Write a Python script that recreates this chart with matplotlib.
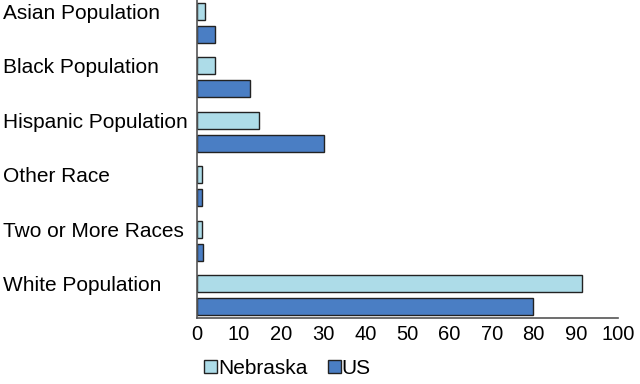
import matplotlib.pyplot as plt
import numpy as np

categories = ["Asian Population", "Black Population", "Hispanic Population",
              "Other Race", "Two or More Races", "White Population"]
nebraska = [1.8, 4.3, 14.8, 1.2, 1.2, 91.4]
us = [4.3, 12.6, 30.2, 1.1, 1.5, 79.7]
xticks = list(range(0, 101, 10))

plt.rcParams['font.family'] = ['Liberation Sans', 'DejaVu Sans']

fig = plt.figure(figsize=(6.4, 3.84), dpi=100)
ax = fig.add_axes([197 / 640, 66 / 384, 421 / 640, 318 / 384])

y = np.arange(len(categories))
off = 0.213
h = 0.315
ax.barh(y - off, nebraska, height=h, color='#ADDCE8', edgecolor='#222222',
        linewidth=1.0, label='Nebraska')
ax.barh(y + off, us, height=h, color='#4A7EC4', edgecolor='#222222',
        linewidth=1.0, label='US')

ax.set_ylim(len(categories) - 1 + 0.42, -0.42)
ax.set_xlim(0, 100)
ax.set_xticks(xticks)
ax.set_yticks(y - off)
ax.set_yticklabels(categories, ha='left')
ax.tick_params(axis='y', length=0, pad=194 * 72 / 100, labelsize=15)
ax.tick_params(axis='x', length=0, pad=5, labelsize=14.5)

for s in ['top', 'right']:
    ax.spines[s].set_visible(False)
for s in ['left', 'bottom']:
    ax.spines[s].set_color('#555555')
    ax.spines[s].set_linewidth(1.2)

fig.legend(loc='lower left', bbox_to_anchor=(196 / 640, -0.005), ncol=2,
           frameon=False, fontsize=15, handlelength=0.6, handleheight=0.6,
           handletextpad=0.05, columnspacing=1.0, borderaxespad=0)

fig.savefig('out.png', dpi=100)
